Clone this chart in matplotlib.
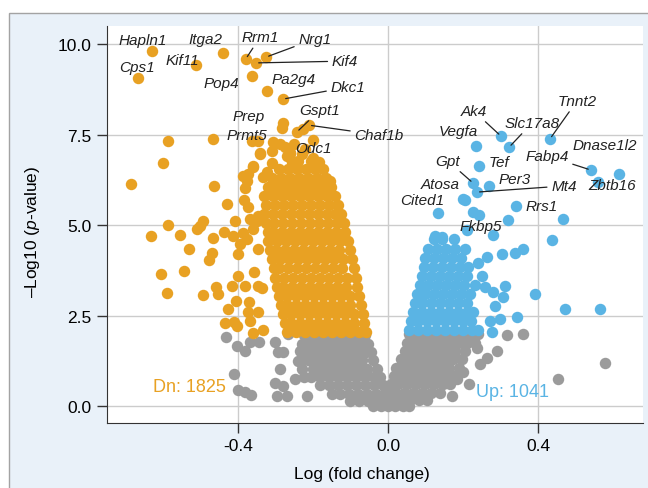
import matplotlib.pyplot as plt
from matplotlib.patches import Rectangle

plt.rcParams['font.family'] = ['Liberation Sans', 'DejaVu Sans']
plt.rcParams['mathtext.fontset'] = 'custom'
plt.rcParams['mathtext.it'] = 'Liberation Sans:italic'
plt.rcParams['mathtext.rm'] = 'Liberation Sans'

ORANGE = '#e8a123'
BLUE = '#5ab4e4'
GREY = '#9b9b9b'

# labelled genes (log fold change, -log10 p)
genes = ['Hapln1', 'Cps1', 'Kif11', 'Itga2', 'Rrm1', 'Nrg1', 'Kif4', 'Pop4', 'Pa2g4', 'Dkc1',
         'Prep', 'Prmt5', 'Gspt1', 'Chaf1b', 'Odc1',
         'Ak4', 'Slc17a8', 'Tnnt2', 'Vegfa', 'Dnase1l2', 'Fabp4', 'Zbtb16', 'Gpt', 'Tef',
         'Per3', 'Mt4', 'Atosa', 'Cited1', 'Rrs1', 'Fkbp5']
gene_x = [-0.629, -0.667, -0.512, -0.440, -0.379, -0.325, -0.352, -0.363, -0.323, -0.280,
          -0.280, -0.283, -0.243, -0.211, -0.200,
          0.301, 0.323, 0.432, 0.235, 0.616, 0.541, 0.560, 0.227, 0.243,
          0.269, 0.237, 0.205, 0.133, 0.341, 0.243]
gene_y = [9.81, 9.06, 9.42, 9.75, 9.59, 9.64, 9.48, 9.12, 8.70, 8.48,
          7.82, 7.68, 7.57, 7.76, 7.35,
          7.46, 7.15, 7.38, 7.18, 6.41, 6.52, 6.19, 6.16, 6.63,
          6.08, 5.91, 5.69, 5.33, 5.52, 5.28]
label_xy = [(-0.653, 10.11), (-0.669, 9.36), (-0.549, 9.56), (-0.488, 10.14), (-0.341, 10.19),
            (-0.195, 10.14), (-0.115, 9.53), (-0.443, 8.92), (-0.251, 9.03), (-0.107, 8.81),
            (-0.371, 8.01), (-0.376, 7.49), (-0.181, 8.18), (-0.024, 7.49), (-0.200, 7.13),
            (0.229, 8.15), (0.384, 7.82), (0.504, 8.43), (0.187, 7.60), (0.579, 7.21),
            (0.424, 6.91), (0.597, 6.10), (0.160, 6.77), (0.296, 6.74),
            (0.339, 6.27), (0.469, 6.08), (0.139, 6.13), (0.091, 5.69), (0.411, 5.52), (0.248, 4.97)]
leader = {'Rrm1', 'Nrg1', 'Kif4', 'Dkc1', 'Gspt1', 'Chaf1b', 'Ak4', 'Slc17a8', 'Tnnt2',
          'Fabp4', 'Gpt', 'Mt4'}

# down-regulated, scattered points
dn_x = [-0.387, -0.360, -0.341, -0.381, -0.384, -0.373, -0.368, -0.347, -0.408, -0.387, -0.400,
        -0.400, -0.381, -0.371, -0.357, -0.360, -0.333, -0.373, -0.347, -0.336, -0.416, -0.427,
        -0.405, -0.435, -0.411, -0.403, -0.459, -0.453, -0.493, -0.589, -0.544, -0.605, -0.469,
        -0.477, -0.467, -0.531, -0.509, -0.501, -0.493, -0.555, -0.632, -0.587, -0.429, -0.464,
        -0.685, -0.600, -0.587, -0.467, -0.437, -0.413, -0.376, -0.395, -0.368, -0.347, -0.347,
        -0.360, -0.350, -0.363, -0.347, -0.307, -0.288, -0.275, -0.341, -0.309, -0.360, -0.373,
        -0.376, -0.323, -0.333, -0.256, -0.243, -0.200, -0.155, -0.227, -0.262,
        -0.260, -0.230, -0.200, -0.270, -0.310, -0.250, -0.220, -0.185]
dn_y = [6.35, 6.63, 6.96, 6.02, 5.69, 5.50, 5.17, 5.25, 5.11, 4.78, 4.20,
        3.59, 3.31, 2.87, 3.70, 2.02, 2.10, 2.60, 2.60, 3.26, 3.31, 2.68,
        2.90, 2.29, 2.32, 2.21, 3.29, 3.09, 3.07, 3.12, 3.73, 3.65, 4.23,
        4.03, 4.64, 4.34, 4.89, 4.97, 5.11, 4.72, 4.70, 5.00, 5.58, 6.08,
        6.13, 6.71, 7.32, 7.38, 4.81, 4.70, 4.61, 4.48, 2.35, 3.31, 4.34,
        4.89, 5.11, 7.32, 7.32, 7.29, 7.24, 7.15, 6.99, 6.71, 6.60, 6.41,
        6.22, 6.46, 6.33, 6.74, 6.60, 6.60, 6.22, 7.65, 7.00,
        7.00, 6.95, 6.85, 6.90, 7.05, 7.25, 7.10, 6.75]

# down-regulated, dense body: (-log10 p, [log fold change ...])
dn_rows = [
    (2.05, [-0.270, -0.246, -0.222, -0.198, -0.174, -0.150, -0.126, -0.102, -0.078, -0.058]),
    (2.30, [-0.275, -0.258, -0.234, -0.210, -0.186, -0.162, -0.138, -0.114, -0.090, -0.064]),
    (2.55, [-0.280, -0.258, -0.234, -0.210, -0.186, -0.162, -0.138, -0.114, -0.090, -0.066]),
    (2.80, [-0.285, -0.270, -0.246, -0.222, -0.198, -0.174, -0.150, -0.126, -0.102, -0.072]),
    (3.05, [-0.290, -0.268, -0.244, -0.220, -0.196, -0.172, -0.148, -0.124, -0.100, -0.076]),
    (3.30, [-0.295, -0.280, -0.256, -0.232, -0.208, -0.184, -0.160, -0.136, -0.112, -0.082]),
    (3.55, [-0.300, -0.278, -0.254, -0.230, -0.206, -0.182, -0.158, -0.134, -0.110, -0.085]),
    (3.80, [-0.305, -0.290, -0.266, -0.242, -0.218, -0.194, -0.170, -0.146, -0.122, -0.090]),
    (4.05, [-0.310, -0.288, -0.264, -0.240, -0.216, -0.192, -0.168, -0.144, -0.120, -0.095]),
    (4.30, [-0.315, -0.298, -0.274, -0.250, -0.226, -0.202, -0.178, -0.154, -0.130, -0.102]),
    (4.55, [-0.320, -0.296, -0.272, -0.248, -0.224, -0.200, -0.176, -0.152, -0.128, -0.106]),
    (4.80, [-0.320, -0.306, -0.282, -0.258, -0.234, -0.210, -0.186, -0.162, -0.138, -0.114]),
    (5.05, [-0.325, -0.304, -0.280, -0.256, -0.232, -0.208, -0.184, -0.160, -0.136, -0.118]),
    (5.30, [-0.330, -0.306, -0.282, -0.258, -0.234, -0.210, -0.186, -0.162, -0.140, -0.124]),
    (5.55, [-0.325, -0.300, -0.276, -0.252, -0.228, -0.204, -0.180, -0.156, -0.132]),
    (5.80, [-0.330, -0.306, -0.282, -0.258, -0.234, -0.210, -0.186, -0.162, -0.140]),
    (6.05, [-0.320, -0.296, -0.272, -0.248, -0.224, -0.200, -0.176, -0.152]),
    (6.30, [-0.310, -0.284, -0.260, -0.236, -0.212, -0.188, -0.164]),
    (6.55, [-0.290, -0.266, -0.242, -0.218, -0.194, -0.172]),
    (6.78, [-0.255, -0.240, -0.205]),
]

# up-regulated, scattered points
up_x = [0.320, 0.467, 0.437, 0.280, 0.360, 0.339, 0.304, 0.312, 0.392, 0.472, 0.565, 0.344,
        0.299, 0.272, 0.277, 0.307, 0.285, 0.264, 0.125, 0.144, 0.200, 0.211, 0.227, 0.280,
        0.240, 0.250, 0.260]
up_y = [5.14, 5.17, 4.59, 4.72, 4.34, 4.23, 4.20, 3.31, 3.09, 2.68, 2.68, 2.46,
        2.40, 2.35, 2.04, 3.01, 2.76, 4.12, 4.70, 4.67, 5.72, 4.86, 5.36, 3.15,
        3.95, 3.60, 3.30]

up_rows = [
    (2.10, [0.056, 0.080, 0.104, 0.128, 0.152, 0.176, 0.200, 0.224, 0.240]),
    (2.35, [0.062, 0.080, 0.104, 0.128, 0.152, 0.176, 0.200, 0.222]),
    (2.60, [0.066, 0.090, 0.114, 0.138, 0.162, 0.186, 0.210, 0.228]),
    (2.85, [0.072, 0.092, 0.116, 0.140, 0.164, 0.188, 0.212]),
    (3.10, [0.078, 0.100, 0.124, 0.148, 0.172, 0.196, 0.220]),
    (3.35, [0.085, 0.108, 0.132, 0.156, 0.180, 0.204, 0.232]),
    (3.60, [0.090, 0.114, 0.138, 0.162, 0.186, 0.210]),
    (3.85, [0.095, 0.120, 0.144, 0.168, 0.192, 0.214]),
    (4.10, [0.100, 0.124, 0.148, 0.172, 0.196]),
    (4.35, [0.108, 0.130, 0.154, 0.178, 0.205]),
    (4.62, [0.122, 0.145, 0.175]),
]

# not significant
ns_x = [-0.432, -0.403, -0.381, -0.368, -0.344, -0.411, -0.400, -0.381, -0.365, -0.301, -0.293,
        -0.280, -0.288, -0.301, -0.280, -0.296, -0.269, -0.216, -0.248, -0.240, -0.235, -0.267,
        0.317, 0.360, 0.290, 0.264, 0.245, 0.216, 0.184, 0.171, 0.453, 0.579, 0.237, 0.200]
ns_y = [1.91, 1.66, 1.52, 1.77, 1.77, 0.88, 0.44, 0.39, 0.30, 1.77, 1.49,
        1.49, 1.02, 0.64, 0.55, 0.28, 0.28, 0.28, 0.75, 1.24, 1.52, 1.98,
        1.96, 1.99, 1.52, 1.33, 1.16, 0.61, 0.75, 0.28, 0.75, 1.19, 1.60, 0.95]

ns_rows = [
    (1.95, [-0.225, -0.200, -0.176, -0.152, -0.128, -0.104, -0.080, -0.060]),
    (1.72, [-0.228, -0.212, -0.188, -0.164, -0.140, -0.116, -0.092, -0.068, -0.052]),
    (1.49, [-0.225, -0.200, -0.176, -0.152, -0.128, -0.104, -0.080, -0.058, -0.045]),
    (1.26, [-0.230, -0.212, -0.188, -0.164, -0.140, -0.116, -0.092, -0.068, -0.040]),
    (1.03, [-0.230, -0.200, -0.176, -0.152, -0.128, -0.104, -0.080, -0.056, -0.030]),
    (0.80, [-0.225, -0.204, -0.180, -0.156, -0.132, -0.108, -0.084, -0.060, -0.038, -0.020]),
    (0.57, [-0.180, -0.156, -0.132, -0.108, -0.084, -0.060, -0.036, -0.012]),
    (0.34, [-0.150, -0.128, -0.104, -0.080, -0.056, -0.032, -0.010]),
    (0.14, [-0.100, -0.076, -0.052, -0.028, -0.006]),
    (0.00, [-0.040, -0.018, 0.000]),
    (1.98, [0.055, 0.078, 0.102, 0.126, 0.150, 0.174, 0.198, 0.222, 0.240]),
    (1.75, [0.052, 0.066, 0.090, 0.114, 0.138, 0.162, 0.186, 0.210, 0.232]),
    (1.52, [0.045, 0.060, 0.084, 0.108, 0.132, 0.156, 0.180, 0.205]),
    (1.29, [0.035, 0.054, 0.078, 0.102, 0.126, 0.150, 0.174, 0.198]),
    (1.06, [0.022, 0.044, 0.068, 0.092, 0.116, 0.140, 0.164, 0.190]),
    (0.83, [0.015, 0.036, 0.060, 0.084, 0.108, 0.132, 0.156, 0.178]),
    (0.60, [0.008, 0.028, 0.052, 0.076, 0.100, 0.124, 0.148, 0.165]),
    (0.37, [0.002, 0.020, 0.044, 0.068, 0.092, 0.116, 0.140]),
    (0.16, [0.012, 0.036, 0.060, 0.084, 0.105]),
    (0.00, [0.018, 0.040, 0.055]),
]

n_down = 1825
n_up = 1041


def unroll(rows):
    xs, ys = [], []
    for y, row in rows:
        xs += row
        ys += [y] * len(row)
    return xs, ys


fig = plt.figure(figsize=(6.48, 4.89), dpi=100)
bg = Rectangle((9 / 648, -0.05), 1.1, 475 / 489 + 0.05, transform=fig.transFigure,
               facecolor='#e9f1f9', edgecolor='#a3a3a3', lw=1, zorder=-10)
fig.patches.append(bg)
ax = fig.add_axes([107 / 648, 65 / 489, 536 / 648, 397 / 489])

ms = 68
x, y = unroll(ns_rows)
ax.scatter(x + ns_x, y + ns_y, s=ms, color=GREY, lw=0, zorder=2)
x, y = unroll(dn_rows)
ax.scatter(x + dn_x, y + dn_y, s=ms, color=ORANGE, lw=0, zorder=3)
x, y = unroll(up_rows)
ax.scatter(x + up_x, y + up_y, s=ms, color=BLUE, lw=0, zorder=3)
for g, gx, gy in zip(genes, gene_x, gene_y):
    ax.scatter(gx, gy, s=ms, color=ORANGE if gx < 0 else BLUE, lw=0, zorder=3)

for g, gx, gy, (lx, ly) in zip(genes, gene_x, gene_y, label_xy):
    if g in leader:
        ax.annotate(g, xy=(gx, gy), xytext=(lx, ly), ha='center', va='center',
                    fontsize=11, style='italic', color='#222222', zorder=5,
                    arrowprops=dict(arrowstyle='-', lw=0.9, color='#222222',
                                    shrinkA=1, shrinkB=2))
    else:
        ax.text(lx, ly, g, ha='center', va='center', fontsize=11, style='italic',
                color='#222222', zorder=5)

ax.text(-0.528, 0.55, f'Dn: {n_down}', color=ORANGE, fontsize=13, ha='center', va='center')
ax.text(0.333, 0.41, f'Up: {n_up}', color=BLUE, fontsize=13, ha='center', va='center')

ax.set_xlim(-0.749, 0.68)
ax.set_ylim(-0.47, 10.5)
ax.set_xticks([-0.4, 0.0, 0.4])
ax.set_yticks([0, 2.5, 5, 7.5, 10])
ax.xaxis.set_major_formatter(plt.FormatStrFormatter('%.1f'))
ax.yaxis.set_major_formatter(plt.FormatStrFormatter('%.1f'))
ax.grid(True, color='#cccccc', lw=1)
ax.set_axisbelow(True)
for s in ['top', 'right']:
    ax.spines[s].set_visible(False)
for s in ['left', 'bottom']:
    ax.spines[s].set_color('#333333')
ax.tick_params(direction='out', length=7, width=1, labelsize=12.5, color='#333333', pad=4)

ax.set_xlabel('Log (fold change)', fontsize=12.5)
ax.set_ylabel('\u2013Log10 ($\\it{p}$-value)', fontsize=12.5)
ax.xaxis.set_label_coords(0.476, -0.108)
ax.yaxis.set_label_coords(-0.121, 0.484)

fig.savefig('out.png', dpi=100, facecolor='white')
